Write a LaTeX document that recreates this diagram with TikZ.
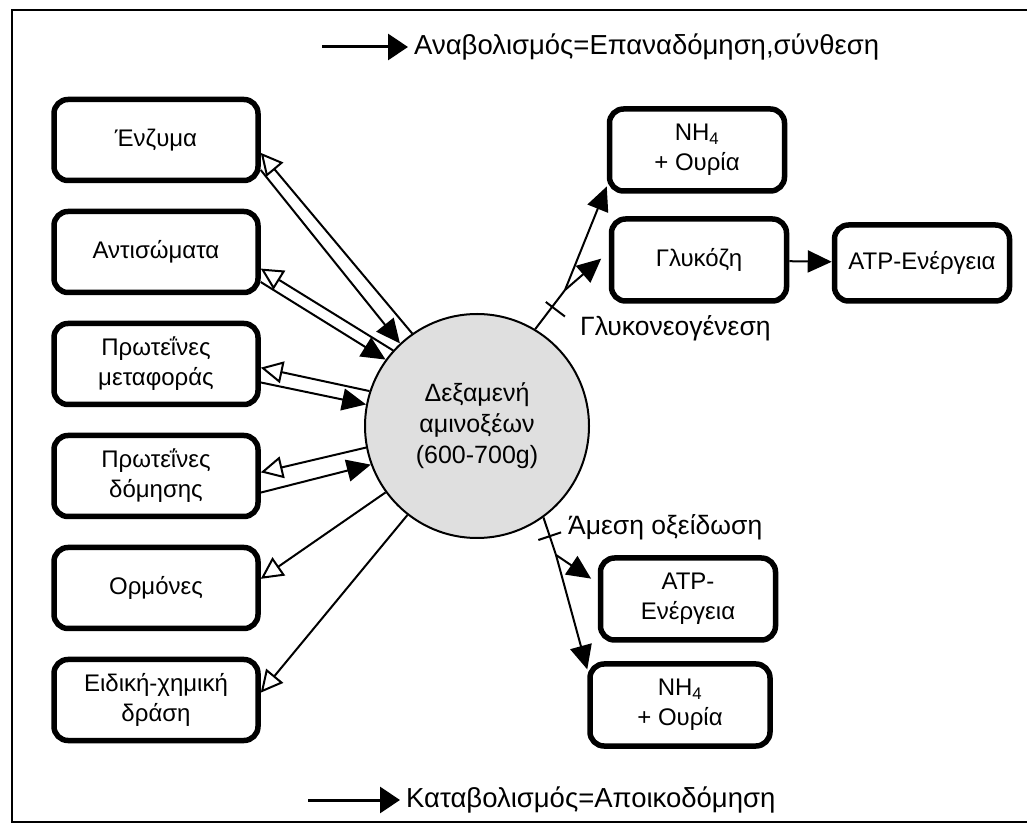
\documentclass[tikz,border=0pt]{standalone}
\usepackage{fontspec}
\setmainfont{Liberation Sans}
\usepackage{tikz}
\usetikzlibrary{arrows.meta,positioning,calc}
\tikzstyle{box} = [draw, line width=5.5pt, rounded corners=14pt, minimum width=204pt, minimum height=81pt, align=center, font=\fontsize{24}{30}\selectfont]
\tikzstyle{rbox} = [box, minimum width=175pt, minimum height=82pt]
\tikzstyle{conn} = [line width=2pt]
\tikzstyle{hollow arrow} = [conn, -{Triangle[open, length=22pt, width=22pt]}]
\tikzstyle{solid arrow} = [conn, -{Triangle[length=24pt, width=22pt]}]
\tikzstyle{legend arrow} = [line width=3pt, -{Triangle[length=20pt, width=26pt]}]
\tikzstyle{note} = [font=\fontsize{26.5}{30}\selectfont, anchor=west, inner sep=2pt]
\tikzstyle{legend} = [font=\fontsize{27.5}{30}\selectfont, anchor=west, inner sep=6pt]

\begin{document}
\begin{tikzpicture}[x=1pt,y=1pt]
        \useasboundingbox (0,0) rectangle (1027,827);
        \draw[line width=2.5pt] (1027,817) -- (12,817) -- (12,5) -- (1027,5);
        % amino acid pool
        \node[circle, draw, line width=2pt, fill=gray!25, minimum size=224pt, align=center, font=\fontsize{25}{31}\selectfont] (pool) at (477,401) {Δεξαμενή\\αμινοξέων\\(600-700g)};
        % left column
        \foreach \n/\y/\t in {1/687/Ένζυμα, 2/575/Αντισώματα, 3/463/{Πρωτεΐνες\\μεταφοράς}, 4/351/{Πρωτεΐνες\\δόμησης}, 5/239/Ορμόνες, 6/127/{Ειδική-χημική\\δράση}}{
            \node[box] (b\n) at (156,\y) {\t};
        }
        \foreach \n/\ba/\pa/\bb/\pb in {1/-7/125/-16/133, 2/-9/138/-16/144, 3/-2/162/-10/169, 4/2/191/-9/200}{
            \draw[hollow arrow] (pool.\pa) -- (b\n.\ba);
            \draw[solid arrow] (b\n.\bb) -- (pool.\pb);
        }
        \foreach \n/\ba/\pa in {5/5/216, 6/4/232}{
            \draw[hollow arrow] (pool.\pa) -- (b\n.\ba);
        }
        % right side
        \node[rbox] (nhtop) at (697,677) {NH\textsubscript{4}\\+ Ουρία};
        \node[rbox] (gluc) at (699,567) {Γλυκόζη};
        \node[rbox, minimum height=76pt] (atpr) at (922,564) {ATP-Ενέργεια};
        \node[rbox] (atpb) at (688,228) {ATP-\\Ενέργεια};
        \node[rbox, minimum width=180pt] (nhbot) at (680,122) {NH\textsubscript{4}\\+ Ουρία};
        \coordinate (gsplit) at (565,537);
        \draw[conn] (pool.59) -- (gsplit);
        \draw[solid arrow] (gsplit) -- (nhtop.202);
        \draw[solid arrow, shorten >=10pt] (gsplit) -- (gluc.175);
        \draw[solid arrow] (gluc) -- (atpr);
        \coordinate (gtick) at ($(pool.59)!0.57!(gsplit)$);
        \draw[conn] ($(gtick)!8pt!90:(gsplit)$) -- ($(gtick)!16pt!-90:(gsplit)$);
        \node[note] (gneo) at (578,499) {Γλυκονεογένεση};
        \coordinate (osplit) at (556,272);
        \draw[conn] (pool.-54) -- (osplit);
        \draw[solid arrow] (osplit) -- (nhbot.159);
        \draw[solid arrow, shorten >=8pt] (osplit) -- (atpb.170);
        \coordinate (otick) at ($(pool.-54)!0.5!(osplit)$);
        \draw[conn] ($(otick)!12pt!90:(osplit)$) -- ($(otick)!12pt!-90:(osplit)$);
        \node[note] (oxid) at (566,300) {Άμεση οξείδωση};
        % legend
        \node[legend] (ana) at (408,780) {Αναβολισμός=Επαναδόμηση,σύνθεση};
        \coordinate (anastart) at (322,780);
        \draw[legend arrow] (anastart) -- (ana);
        \node[legend] (kata) at (400,27) {Καταβολισμός=Αποικοδόμηση};
        \coordinate (katastart) at (308,27);
        \draw[legend arrow] (katastart) -- (kata);
    \end{tikzpicture}
\end{document}
